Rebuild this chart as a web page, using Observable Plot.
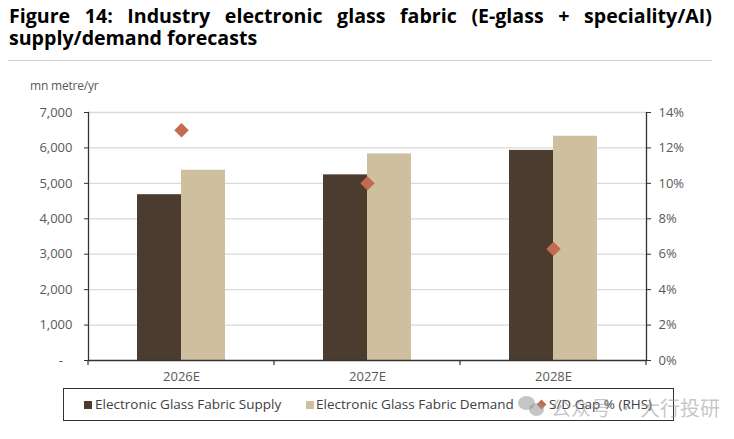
<!DOCTYPE html>
<html>
<head>
<meta charset="utf-8">
<script src="https://cdn.jsdelivr.net/npm/d3@7"></script>
<script src="https://cdn.jsdelivr.net/npm/@observablehq/plot@0.6"></script>
<style>
  html, body { margin: 0; padding: 0; background: #fff; }
  body { width: 734px; height: 439px; overflow: hidden; position: relative; font-family: "Open Sans", sans-serif; }
  #title { position: absolute; left: 9px; top: 5px; width: 703px; font-weight: 700; font-size: 19.6px; line-height: 22px; color: #000; }
  #title .l1 { text-align: justify; text-align-last: justify; white-space: nowrap; height: 22px; }
  #title .l2 { height: 22px; }
  #sep { position: absolute; left: 8px; top: 60px; width: 704px; height: 1px; background: #cfcfcf; }
  #unit { position: absolute; left: 30px; top: 77px; font-size: 12px; color: #595959; letter-spacing: -0.2px; }
  #chart { position: absolute; left: 0; top: 70px; }
  #legend { position: absolute; left: 63px; top: 388px; width: 611px; height: 33px; border: 1px solid #333; box-sizing: border-box; font-size: 13.5px; color: #404040; }
  .li { position: absolute; top: 6px; white-space: nowrap; }
  .sw { position: absolute; top: 12px; width: 8px; height: 8px; }
  #wm { position: absolute; left: 551px; top: 393px; font-size: 20px; color: rgba(150,150,150,0.55); font-family: "Noto Sans CJK SC", sans-serif; white-space: nowrap; }
  .bub { position: absolute; border-radius: 50%; background: rgba(150,150,150,0.55); }
</style>
</head>
<body>
<div id="title"><div class="l1"></div><div class="l2"></div></div>
<div id="sep"></div>
<div id="unit"></div>
<div id="chart"></div>
<div id="legend"></div>
<div class="bub" style="left:518px;top:396px;width:17px;height:14px;"></div>
<div class="bub" style="left:529px;top:403px;width:15px;height:13px;"></div>
<div id="wm"></div>
<script>
// ---- data ----
const titleLine1 = "Figure 14: Industry electronic glass fabric (E-glass + speciality/AI)";
const titleLine2 = "supply/demand forecasts";
const unitLabel = "mn metre/yr";
const years = ["2026E", "2027E", "2028E"];
const supply = [4680, 5240, 5930];
const demand = [5370, 5830, 6330];
const gapPct = [13.0, 10.0, 6.3];
const leftTicks = [0, 1000, 2000, 3000, 4000, 5000, 6000, 7000];
const rightTicks = [0, 2, 4, 6, 8, 10, 12, 14];
const seriesNames = ["Electronic Glass Fabric Supply", "Electronic Glass Fabric Demand", "S/D Gap % (RHS)"];
const colors = ["#4b3c2f", "#cebf9f", "#c26b51"];
const watermark = "公众号 · 大行投研";

document.querySelector("#title .l1").textContent = titleLine1;
document.querySelector("#title .l2").textContent = titleLine2;
document.getElementById("unit").textContent = unitLabel;
document.getElementById("wm").textContent = watermark;

const leftMax = leftTicks[leftTicks.length - 1];
const rightMax = rightTicks[rightTicks.length - 1];
const k = leftMax / rightMax; // map % onto left scale

const data = years.map((y, i) => ({year: y, supply: supply[i], demand: demand[i], gap: gapPct[i]}));

const W = 734, H = 318, mL = 88, mR = 88, mT = 42, mB = 28;
const barW = 44;
const step = (W - mL - mR) / years.length;
const pi = 1 - barW / step;

const axisColor = "#333";
const labelColor = "#595959";

function bandTicks(index, scales, values, dims) {
  const g = d3.create("svg:g").attr("stroke", axisColor).attr("stroke-width", 1.2);
  const bw = scales.x.bandwidth ? scales.x.bandwidth() : 0;
  const y0 = scales.y(0);
  const edges = years.map(y => scales.x(y) + bw / 2 - step / 2);
  edges.push(scales.x(years[years.length - 1]) + bw / 2 + step / 2);
  for (const e of edges) g.append("line").attr("x1", e).attr("x2", e).attr("y1", y0).attr("y2", y0 + 5);
  return g.node();
}

const plot = Plot.plot({
  width: W, height: H,
  marginLeft: mL, marginRight: mR, marginTop: mT, marginBottom: mB,
  style: {fontFamily: "'Open Sans', sans-serif", fontSize: "13px", color: labelColor, background: "transparent"},
  x: {type: "band", domain: years, paddingInner: pi, paddingOuter: pi / 2, axis: null},
  y: {domain: [0, leftMax], axis: null},
  marks: [
    Plot.ruleY(leftTicks.slice(1), {stroke: "#d9d9d9", strokeWidth: 1.3}),
    Plot.barY(data, {x: "year", y: "supply", fill: colors[0], dx: -barW / 2}),
    Plot.barY(data, {x: "year", y: "demand", fill: colors[1], dx: barW / 2}),
    Plot.ruleY([0], {stroke: axisColor, strokeWidth: 1.3}),
    Plot.frame({anchor: "left", stroke: axisColor, strokeWidth: 1.3}),
    Plot.frame({anchor: "right", stroke: axisColor, strokeWidth: 1.3}),
    Plot.axisY(leftTicks, {anchor: "left", tickSize: 4, tickPadding: 12, stroke: axisColor, fill: labelColor, fontSize: 13, label: null,
      tickFormat: d => d === 0 ? "-\u2007\u2009" : d3.format(",")(d)}),
    Plot.axisY(rightTicks.map(t => t * k), {anchor: "right", tickSize: 4, tickPadding: 8, stroke: axisColor, fill: labelColor, fontSize: 13, label: null,
      tickFormat: d => Math.round(d / k) + "%"}),
    Plot.axisX(years, {anchor: "bottom", tickSize: 0, tickPadding: 11, fill: labelColor, fontSize: 13, label: null}),
    bandTicks,
    Plot.dot(data, {x: "year", y: d => d.gap * k, symbol: "diamond2", r: 6.5, fill: colors[2], stroke: "none"})
  ]
});
document.getElementById("chart").appendChild(plot);

// legend
const lg = document.getElementById("legend");
const pos = [[20, 31], [242, 252], [474, 485]];
seriesNames.forEach((name, i) => {
  const sw = document.createElement("div");
  sw.className = "sw"; sw.style.left = pos[i][0] + "px"; sw.style.background = colors[i];
  if (i === 2) { sw.style.width = "7px"; sw.style.height = "7px"; sw.style.transform = "rotate(45deg)"; }
  lg.appendChild(sw);
  const t = document.createElement("div");
  t.className = "li"; t.style.left = pos[i][1] + "px"; t.textContent = name;
  lg.appendChild(t);
});
</script>
</body>
</html>
